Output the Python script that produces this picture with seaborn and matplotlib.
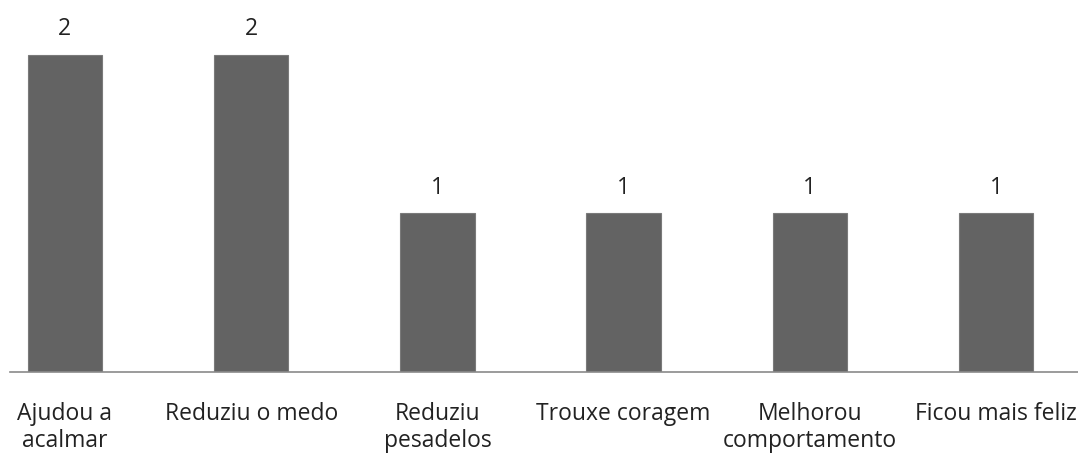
"""Bar chart of perceived benefits (counts)."""
import matplotlib
matplotlib.use('Agg')
import matplotlib.pyplot as plt
import seaborn as sns

# categories and counts
categories = ['Ajudou a\nacalmar', 'Reduziu o medo', 'Reduziu\npesadelos',
              'Trouxe coragem', 'Melhorou\ncomportamento', 'Ficou mais feliz']
counts = [2, 2, 1, 1, 1, 1]

sns.set_style('white')
plt.rcParams['font.family'] = ['Open Sans', 'DejaVu Sans']

fig = plt.figure(figsize=(10.78, 4.56), dpi=100)
# axes from x=10px to the right edge, baseline at y=373px
ax = fig.add_axes([10 / 1078, (456 - 373) / 456, 1 - 10 / 1078, 373 / 456])

sns.barplot(x=categories, y=counts, color='#636363', width=0.4,
            edgecolor='#7a7a7a', linewidth=0.8, saturation=1, ax=ax)

ax.set_xlim(-0.295, 5.44)
ax.set_ylim(0, 2.35)

# value labels above bars
for bar, value in zip(ax.patches, counts):
    ax.text(bar.get_x() + bar.get_width() / 2, bar.get_height() + 0.09,
            f'{value}', ha='center', va='bottom', fontsize=16.5, color='#222222')

sns.despine(ax=ax, left=True, top=True, right=True)
ax.spines['bottom'].set_color('#8a8a8a')
ax.spines['bottom'].set_linewidth(1.2)
ax.set_yticks([])
ax.set_xlabel('')
ax.set_ylabel('')
ax.tick_params(axis='x', length=0, pad=21, labelsize=16.5, labelcolor='#222222')
for label in ax.get_xticklabels():
    label.set_linespacing(1.15)

fig.savefig('out.png', dpi=100)
